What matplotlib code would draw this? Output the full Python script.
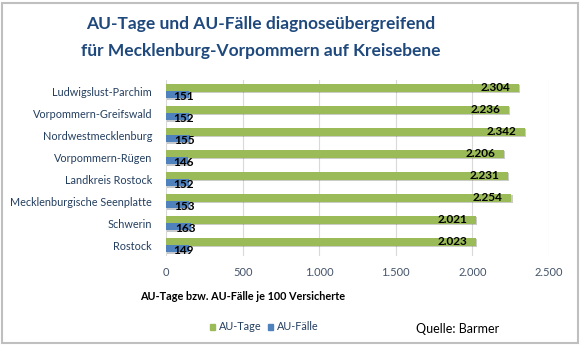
import numpy as np
import matplotlib
matplotlib.use("Agg")
import matplotlib.pyplot as plt
import matplotlib.patheffects as pe
from matplotlib.patches import Rectangle

plt.rcParams['font.family'] = ['Lato', 'DejaVu Sans']

kreise = ["Ludwigslust-Parchim", "Vorpommern-Greifswald", "Nordwestmecklenburg",
          "Vorpommern-Rügen", "Landkreis Rostock", "Mecklenburgische Seenplatte",
          "Schwerin", "Rostock"]
au_tage = [2304, 2236, 2342, 2206, 2231, 2254, 2021, 2023]
au_faelle = [151, 152, 155, 146, 152, 153, 163, 149]

gruen = "#9BBB59"
blau = "#4F81BD"
titel_farbe = "#1F497D"
label_farbe = "#243F60"
tick_farbe = "#44546A"

W, H = 581, 349
fig = plt.figure(figsize=(W / 100, H / 100), dpi=100)

# rahmen um das diagramm
fig.patches.append(Rectangle((2 / W, 6 / H), 576 / W, 340 / H, transform=fig.transFigure,
                             fill=False, edgecolor="#BFBFBF", linewidth=1.5))

ax = fig.add_axes([166 / W, 1 - 256 / H, 383 / W, 176 / H])
y = np.arange(len(kreise))
schatten = [pe.SimplePatchShadow(offset=(1, -1), alpha=0.25), pe.Normal()]

ax.barh(y - 0.15, au_tage, height=0.36, color=gruen, zorder=3, path_effects=schatten)
ax.barh(y + 0.18, au_faelle, height=0.32, color=blau, zorder=3, path_effects=schatten)

for i, (t, f) in enumerate(zip(au_tage, au_faelle)):
    ax.text(t - 55, i - 0.14, f"{t:,}".replace(",", "."), ha="right", va="center",
            fontsize=8.5, fontweight="bold", color="black", zorder=4)
    ax.text(f - 35, i + 0.27, str(f), ha="center", va="center",
            fontsize=8.5, fontweight="bold", color="black", zorder=4)

ax.set_xlim(0, 2500)
ax.set_ylim(len(kreise) - 0.5, -0.5)
ax.set_yticks(y)
ax.set_yticklabels(kreise, fontsize=7.8, color=label_farbe)
ax.set_xticks(range(0, 2501, 500))
ax.set_xticklabels(["0", "500", "1.000", "1.500", "2.000", "2.500"], fontsize=8, color=tick_farbe)
ax.tick_params(length=0, pad=10)
ax.tick_params(axis="x", pad=8)
ax.grid(axis="x", color="#D9D9D9", linewidth=0.8, zorder=0)
for s in ax.spines.values():
    s.set_visible(False)

fig.text(261 / W, 1 - 24 / H, "AU-Tage und AU-Fälle diagnoseübergreifend",
         ha="center", va="center", fontsize=12.5, fontweight="bold", color=titel_farbe)
fig.text(261 / W, 1 - 51 / H, "für Mecklenburg-Vorpommern auf Kreisebene",
         ha="center", va="center", fontsize=12.5, fontweight="bold", color=titel_farbe)

fig.text(243 / W, 1 - 297 / H, "AU-Tage bzw. AU-Fälle je 100 Versicherte",
         ha="center", va="center", fontsize=7.8, fontweight="bold", color="black")

# legende
fig.patches.append(Rectangle((210 / W, 1 - 330 / H), 5 / W, 6 / H, transform=fig.transFigure,
                             color=gruen))
fig.text(219 / W, 1 - 326 / H, "AU-Tage", ha="left", va="center", fontsize=7.8, color=label_farbe)
fig.patches.append(Rectangle((268 / W, 1 - 330 / H), 5 / W, 6 / H, transform=fig.transFigure,
                             color=blau))
fig.text(277 / W, 1 - 326 / H, "AU-Fälle", ha="left", va="center", fontsize=7.8, color=label_farbe)

fig.text(416 / W, 1 - 329 / H, "Quelle: Barmer", ha="left", va="center", fontsize=9, color="black")

fig.savefig("out.png", dpi=100)
